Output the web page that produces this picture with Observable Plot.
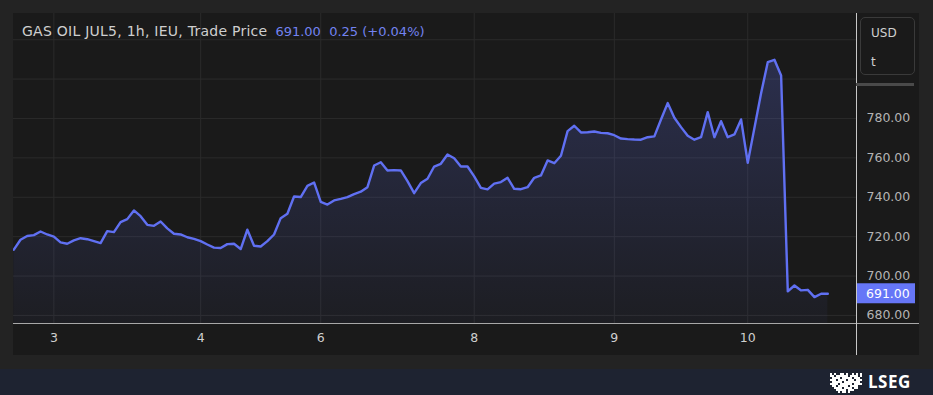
<!DOCTYPE html>
<html><head><meta charset="utf-8">
<script src="https://cdn.jsdelivr.net/npm/d3@7"></script>
<script src="https://cdn.jsdelivr.net/npm/@observablehq/plot@0.6"></script>
<style>
html,body{margin:0;padding:0;background:#232323;width:933px;height:395px;overflow:hidden;font-family:"DejaVu Sans",sans-serif}
#wrap{position:relative;width:933px;height:395px}
#panel{position:absolute;left:13px;top:13px;width:906px;height:342px;background:#1a1a1a}
#chart{position:absolute;left:13px;top:13px}
#title{position:absolute;left:22px;top:23px;font-size:14px;letter-spacing:0.25px;color:#cfcfcf;white-space:pre;z-index:2}
#title .v{color:#7383f0;font-size:13px;letter-spacing:0;margin-left:8px}
#unit{position:absolute;left:860px;top:17px;width:55px;height:58px;border:1px solid #3a3a3a;border-radius:5px;box-sizing:border-box;color:#d0d0d0;font-size:12px;z-index:2}
#unit .a{position:absolute;left:10px;top:8px}
#unit .b{position:absolute;left:10px;top:37px}
#ubar{position:absolute;left:856px;top:83px;width:58px;height:3px;background:#4a4a4a;z-index:2}
#band{position:absolute;left:0;top:369px;width:933px;height:26px;background:#1e2331}
#logo{position:absolute;left:829px;top:372px}
#lseg{position:absolute;left:868px;top:370px;font-size:17px;font-weight:700;color:#fff;letter-spacing:0.5px;font-family:"Open Sans",sans-serif}
</style>
</head><body>
<div id="wrap">
  <div id="panel"></div>
  <div id="chart"></div>
  <div id="title">GAS OIL JUL5, 1h, IEU, Trade Price<span class="v">691.00  0.25 (+0.04%)</span></div>
  <div id="unit"><span class="a">USD</span><span class="b">t</span></div>
  <div id="ubar"></div>
  <div id="band"></div>
  <svg id="logo" width="34" height="21" viewBox="0 0 34 21"></svg>
  <div id="lseg">LSEG</div>
</div>
<script>
// hourly trade prices (USD/t)
const prices = [713.4,718.4,720.3,720.8,722.6,721.1,720.0,717.1,716.4,718.1,719.2,718.7,717.7,716.7,722.8,722.3,727.4,728.9,733.3,730.4,
726.0,725.5,727.7,724.2,721.5,721.1,719.7,718.9,717.7,716.0,714.4,714.2,716.2,716.4,713.7,723.5,715.4,715.0,717.7,721.1,
729.4,731.6,740.4,740.1,745.8,747.5,737.6,736.3,738.4,739.2,740.1,741.6,742.8,745.1,756.1,757.8,753.6,753.8,753.6,748.2,
742.1,747.2,749.4,755.6,757.0,761.7,759.8,755.6,755.6,750.6,744.8,744.0,746.9,747.7,749.9,744.3,744.1,745.1,749.9,751.1,
758.7,757.3,761.1,773.6,776.3,772.9,773.0,773.4,772.7,772.5,771.5,769.8,769.5,769.3,769.2,770.5,770.9,779.5,787.8,780.4,
775.6,771.2,769.2,770.5,783.2,770.5,778.6,770.5,771.9,779.5,757.5,775.2,792.8,808.6,809.8,801.8,692.2,695.2,692.7,693.0,
689.3,691.0,691.0];
const lastPrice = 691.00;
// x-axis day labels and the bar index where each appears
const dayTickIndex = [6, 28, 46, 69, 90, 110];
const dayTickLabels = ["3", "4", "6", "8", "9", "10"];
const yLabelTicks = [680, 700, 720, 740, 760, 780];
const yGridTicks = [680, 700, 720, 740, 760, 780, 800, 820];

const data = prices.map((v, i) => ({i, v}));
const dayLabel = new Map(dayTickIndex.map((d, k) => [d, dayTickLabels[k]]));
const yMin = 675.9, yMax = 833.3;

const gradient = () => {
  const g = d3.create("svg:defs");
  const lg = g.append("linearGradient").attr("id", "areaGrad").attr("x1", 0).attr("x2", 0).attr("y1", 0).attr("y2", 1);
  lg.append("stop").attr("offset", "0%").attr("stop-color", "#6272f0").attr("stop-opacity", 0.24);
  lg.append("stop").attr("offset", "100%").attr("stop-color", "#6272f0").attr("stop-opacity", 0.04);
  return g.node();
};

const frameLines = (index, scales, values, dim) => {
  const g = d3.create("svg:g");
  const xr = dim.width - dim.marginRight;
  const yb = dim.height - dim.marginBottom;
  g.append("line").attr("x1", 0).attr("x2", dim.width).attr("y1", yb + 0.5).attr("y2", yb + 0.5)
    .attr("stroke", "#a8a8a8").attr("stroke-width", 1.2);
  g.append("line").attr("x1", xr + 0.5).attr("x2", xr + 0.5).attr("y1", 0).attr("y2", dim.height)
    .attr("stroke", "#c8c8c8").attr("stroke-width", 1);
  return g.node();
};

const priceTag = (index, scales, values, dim) => {
  const g = d3.create("svg:g");
  const xr = dim.width - dim.marginRight;
  const y = scales.y(lastPrice);
  g.append("rect").attr("x", xr + 1).attr("y", y - 10).attr("width", 58).attr("height", 20).attr("fill", "#6676f7");
  g.append("text").attr("x", xr + 10).attr("y", y).attr("dy", "0.36em").attr("fill", "#ffffff")
    .attr("text-anchor", "start").attr("font-size", 12.5).text(lastPrice.toFixed(2));
  return g.node();
};

const chart = Plot.plot({
  width: 906,
  height: 342,
  marginLeft: 0,
  marginRight: 63,
  marginTop: 0,
  marginBottom: 32,
  style: {background: "transparent", color: "#b8b8b8", fontFamily: "'DejaVu Sans', sans-serif", fontSize: "12.5px"},
  x: {domain: [-0.05, 126.3], axis: null},
  y: {domain: [yMin, yMax], axis: null},
  marks: [
    gradient,
    Plot.gridY(yGridTicks, {stroke: "#2b2b2b", strokeOpacity: 1}),
    Plot.gridX(dayTickIndex, {stroke: "#2b2b2b", strokeOpacity: 1}),
    Plot.areaY(data, {x: "i", y1: () => yMin, y2: "v", fill: "url(#areaGrad)"}),
    Plot.lineY(data, {x: "i", y: "v", stroke: "#6070f2", strokeWidth: 2.4, strokeLinejoin: "round"}),
    Plot.axisY(yLabelTicks, {anchor: "right", label: null, tickSize: 0, tickPadding: 10, tickFormat: d => d.toFixed(2), fill: "#b4b4b4", fontSize: 12.5}),
    Plot.axisX(dayTickIndex, {anchor: "bottom", label: null, tickSize: 0, tickPadding: 10, tickFormat: d => dayLabel.get(d), fill: "#cfcfcf", fontSize: 12.5}),
    frameLines,
    priceTag
  ]
});
document.getElementById("chart").appendChild(chart);

// LSEG emblem (decorative)
const logo = d3.select("#logo");
const pat = [
  "1.1..11.1..1.1.1",
  "11.111111.1111.1",
  ".1111.11111.111.",
  "111.1111.111.111",
  ".11111.11111111.",
  "1111.111111.1111",
  ".11.11111.1111..",
  "..1111.1111.11..",
  "...11111.111....",
  "....1.11.1......"
];
pat.forEach((row, r) => [...row].forEach((c, k) => {
  if (c === "1") logo.append("rect").attr("x", k * 2 + 1).attr("y", r * 2 + 1).attr("width", 2).attr("height", 2).attr("fill", "#fff");
}));
</script>
</body></html>
